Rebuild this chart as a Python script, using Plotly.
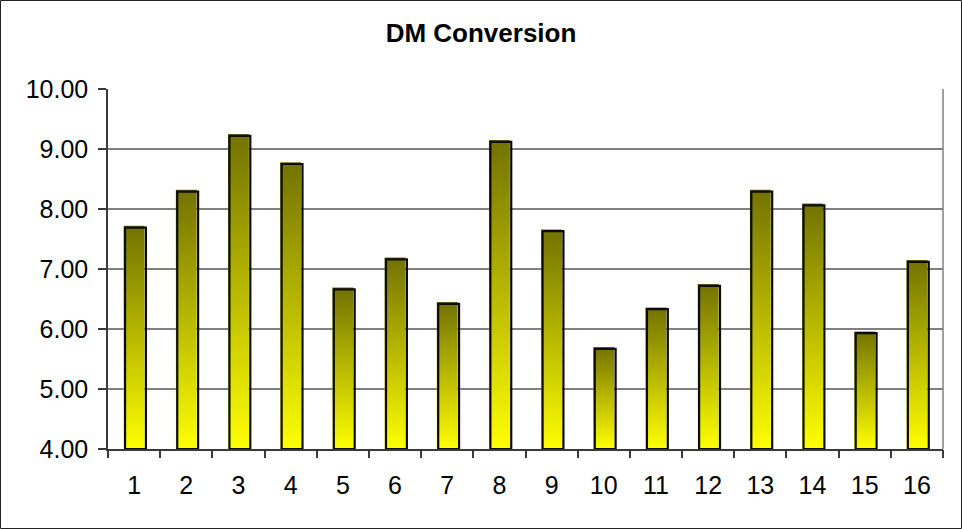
import plotly.graph_objects as go

# DM conversion per batch
batches = list(range(1, 17))
dm_conversion = [7.72, 8.32, 9.25, 8.78, 6.69, 7.19, 6.45, 9.15,
                 7.66, 5.70, 6.36, 6.75, 8.32, 8.09, 5.96, 7.15]
y_ticks = [4, 5, 6, 7, 8, 9, 10]
chart_title = "DM Conversion"

W, H = 962, 529
ML, MR, MT, MB = 108, 19, 89, 80
PW, PH = W - ML - MR, H - MT - MB
Y_MIN, Y_MAX = 4.0, 10.0

HALF = 0.2                          # half bar width in category units
DX = 1.4 / (PW / 16)                # outline offset, right (px -> data)
DY = 1.8 / (PH / (Y_MAX - Y_MIN))   # outline offset, down (px -> data)

FONT = "Liberation Sans, Arial, sans-serif"

fig = go.Figure()

for x, v in zip(batches, dm_conversion):
    # gradient-filled bar body
    fig.add_trace(go.Scatter(
        x=[x - HALF, x + HALF, x + HALF, x - HALF, x - HALF],
        y=[Y_MIN, Y_MIN, v, v, Y_MIN],
        mode="lines", fill="toself",
        line=dict(width=0, color="rgba(0,0,0,0)"),
        fillgradient=dict(type="vertical",
                          colorscale=[[0, "#ffff00"], [1, "#727200"]]),
        hoverinfo="skip", showlegend=False,
    ))
    # dark outline, slightly offset
    fig.add_trace(go.Scatter(
        x=[x - HALF + DX, x + HALF + DX, x + HALF + DX, x - HALF + DX, x - HALF + DX],
        y=[Y_MIN, Y_MIN, v - DY, v - DY, Y_MIN],
        mode="lines", line=dict(width=2.2, color="#0a0a0a"),
        hoverinfo="skip", showlegend=False,
    ))

# invisible trace to carry the boundary tick axis
fig.add_trace(go.Scatter(x=[0.5], y=[Y_MIN], xaxis="x2", mode="markers",
                         marker=dict(opacity=0), hoverinfo="skip", showlegend=False))

fig.update_layout(
    width=W, height=H,
    margin=dict(l=ML, r=MR, t=MT, b=MB),
    paper_bgcolor="white", plot_bgcolor="white",
    font=dict(family=FONT, color="black"),
    title=dict(text="<b>" + chart_title + "</b>", x=0.5, xanchor="center",
               y=1 - 33 / H, yanchor="middle",
               font=dict(size=26, family=FONT, color="black")),
    xaxis=dict(range=[0.5, 16.5], tickvals=batches,
               ticktext=[str(b) for b in batches],
               showgrid=False, zeroline=False, ticks="",
               showline=True, linecolor="#3a3a3a", linewidth=1.5,
               tickfont=dict(size=25, family=FONT, color="black"),
               ticklabelstandoff=13, fixedrange=True),
    xaxis2=dict(range=[0.5, 16.5], overlaying="x", anchor="y", side="bottom",
                tickvals=[b - 0.5 for b in batches] + [16.5],
                showticklabels=False, showgrid=False, zeroline=False,
                ticks="outside", ticklen=8, tickwidth=1.5, tickcolor="#3a3a3a",
                fixedrange=True),
    yaxis=dict(range=[Y_MIN, Y_MAX], tickvals=y_ticks, tickformat=".2f",
               showgrid=True, gridcolor="#808080", gridwidth=1.5,
               zeroline=False, ticks="outside", ticklen=8, tickwidth=1.5,
               tickcolor="#3a3a3a", showline=True, linecolor="#3a3a3a",
               linewidth=1.5, ticklabelstandoff=5,
               tickfont=dict(size=25, family=FONT, color="black"),
               fixedrange=True),
    shapes=[
        # right edge of the plot area
        dict(type="line", xref="paper", yref="paper", x0=1, x1=1, y0=0, y1=1,
             line=dict(color="#808080", width=1.5), layer="below"),
        # frame around the whole chart
        dict(type="rect", xref="paper", yref="paper",
             x0=(-ML + 0.5) / PW, x1=1 + (MR - 0.5) / PW,
             y0=(-MB + 0.5) / PH, y1=1 + (MT - 0.5) / PH,
             line=dict(color="#222222", width=1)),
    ],
)

fig.write_html("out.html")
